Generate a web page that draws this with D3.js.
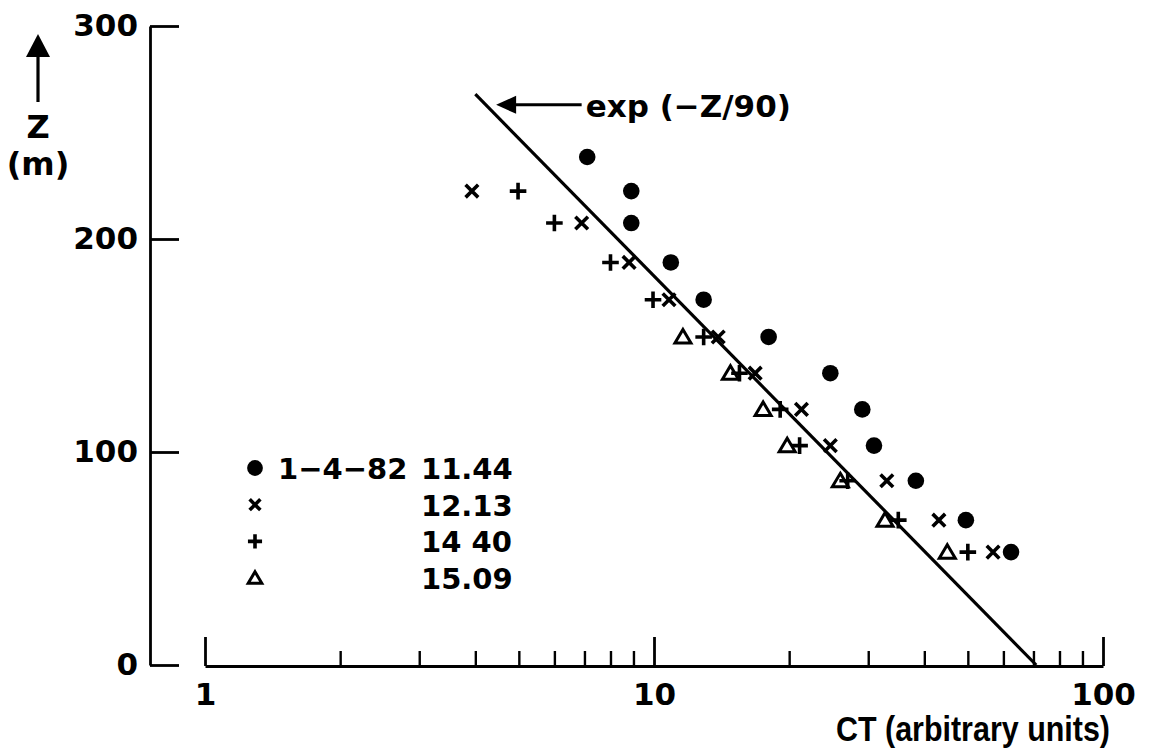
<!DOCTYPE html>
<html>
<head>
<meta charset="utf-8">
<script src="https://cdn.jsdelivr.net/npm/d3@7"></script>
<style>
    html, body { margin: 0; padding: 0; background: #fff; }
    svg { display: block; }
    text { font-family: "DejaVu Sans", "Liberation Sans", sans-serif; font-weight: bold; fill: #000; }
</style>
</head>
<body>
<svg id="chart" width="1154" height="756"></svg>
<script>
// heights (m) at which each profile was sampled
const zDots = [238.5, 222.5, 207.5, 189, 171.5, 154, 137, 120, 103, 86.5, 68, 53];
const ctDots = [7.1, 8.9, 8.9, 10.9, 12.9, 18.0, 24.7, 29.1, 30.9, 38.3, 49.5, 62.4];

const zCross = [222.5, 207.5, 189, 171.5, 154, 137, 120, 103, 86.5, 68, 53];
const ctCross = [3.93, 6.9, 8.8, 10.8, 13.9, 16.8, 21.3, 24.7, 33.0, 43.1, 56.9];

const zPlus = [222.5, 207.5, 189, 171.5, 154, 137, 120, 103, 86.5, 68, 53];
const ctPlus = [4.98, 6.0, 8.0, 9.95, 12.9, 15.5, 19.1, 21.1, 27.0, 35.0, 50.0];

const zTri = [154, 137, 120, 103, 86.5, 68, 53];
const ctTri = [11.6, 14.8, 17.5, 19.8, 26.0, 32.7, 45.0];

// fitted exp(-Z/90) line, end points
const fitCT = [4.0, 71];
const fitZ = [268, 0];

const legendSymbols = ['dot', 'cross', 'plus', 'tri'];
const legendDates = ['1−4−82', '', '', ''];
const legendTimes = ['11.44', '12.13', '14 40', '15.09'];

const yTicks = [0, 100, 200, 300];
const xMajor = [1, 10, 100];
const xMinor = [2, 3, 4, 5, 6, 7, 8, 9, 20, 30, 40, 50, 60, 70, 80, 90];

const svg = d3.select('#chart');

const x = d3.scaleLog().domain([1, 100]).range([205, 1103]);
const y = d3.scaleLinear().domain([0, 300]).range([665, 26]);

// y axis, ticks pointing right, labels left
svg.append('g')
    .attr('transform', 'translate(150,0)')
    .call(d3.axisLeft(y).tickValues(yTicks).tickSize(-29).tickSizeOuter(0).tickPadding(12))
    .call(g => g.selectAll('path, line').attr('stroke', '#000').attr('stroke-width', 2.8))
    .call(g => g.selectAll('text').attr('font-size', 31).attr('font-family', null));

// x axis
const xAxisY = 666;
svg.append('g')
    .attr('transform', `translate(0,${xAxisY})`)
    .call(d3.axisBottom(x).tickValues(xMinor).tickSize(-15).tickSizeOuter(0).tickFormat(''))
    .call(g => g.select('.domain').remove())
    .call(g => g.selectAll('line').attr('stroke', '#000').attr('stroke-width', 2.4));

svg.append('g')
    .attr('transform', `translate(0,${xAxisY})`)
    .call(d3.axisBottom(x).tickValues(xMajor).tickSize(-29).tickSizeOuter(0).tickPadding(17).tickFormat(d3.format('d')))
    .call(g => g.selectAll('path, line').attr('stroke', '#000').attr('stroke-width', 2.8))
    .call(g => g.selectAll('text').attr('font-size', 31).attr('font-family', null));

// axis titles (condensed lettering)
svg.append('text')
    .attr('transform', 'translate(1110,741) scale(0.87,1)')
    .attr('text-anchor', 'end')
    .attr('font-size', 35)
    .style('font-family', '"Liberation Sans", Arial, sans-serif')
    .text('CT (arbitrary units)');

// up arrow, Z (m)
svg.append('line')
    .attr('x1', 38).attr('y1', 102).attr('x2', 38).attr('y2', 52)
    .attr('stroke', '#000').attr('stroke-width', 3.2);
svg.append('path')
    .attr('d', 'M38,34 L50,57 L26,57 Z')
    .attr('fill', '#000');
svg.append('text')
    .attr('x', 38).attr('y', 138)
    .attr('text-anchor', 'middle')
    .attr('font-size', 32)
    .text('Z');
svg.append('text')
    .attr('x', 38).attr('y', 175)
    .attr('text-anchor', 'middle')
    .attr('font-size', 32)
    .text('(m)');

// fit line
const fitLine = d3.line().x(d => x(d[0])).y(d => y(d[1]));
svg.append('path')
    .attr('d', fitLine(d3.zip(fitCT, fitZ)))
    .attr('fill', 'none')
    .attr('stroke', '#000')
    .attr('stroke-width', 3.2);

// annotation arrow and label
const annZ = 263;
const annTip = x(4.45);
const annStart = x(6.9);
svg.append('line')
    .attr('x1', annStart).attr('y1', y(annZ))
    .attr('x2', annTip + 14).attr('y2', y(annZ))
    .attr('stroke', '#000').attr('stroke-width', 3);
svg.append('path')
    .attr('d', `M${annTip},${y(annZ)} L${annTip + 20},${y(annZ) - 9} L${annTip + 20},${y(annZ) + 9} Z`)
    .attr('fill', '#000');
svg.append('text')
    .attr('x', annStart + 4)
    .attr('y', y(annZ) + 12)
    .attr('font-size', 31)
    .text('exp (−Z/90)');

// symbols
function drawSymbol(g, type, cx, cy, s) {
    if (type === 'dot') {
        g.append('circle').attr('cx', cx).attr('cy', cy).attr('r', 8.3 * s).attr('fill', '#000');
    } else if (type === 'cross') {
        const r = 6.3 * s;
        g.append('path')
            .attr('d', `M${cx - r},${cy - r}L${cx + r},${cy + r}M${cx - r},${cy + r}L${cx + r},${cy - r}`)
            .attr('stroke', '#000').attr('stroke-width', 3.6).attr('fill', 'none');
    } else if (type === 'plus') {
        const r = 8.3 * s;
        g.append('path')
            .attr('d', `M${cx - r},${cy}L${cx + r},${cy}M${cx},${cy - r}L${cx},${cy + r}`)
            .attr('stroke', '#000').attr('stroke-width', 3.6).attr('fill', 'none');
    } else if (type === 'tri') {
        const w = 8 * s, h = 13.5 * s;
        g.append('path')
            .attr('d', `M${cx},${cy - h * 0.55}L${cx + w},${cy + h * 0.45}L${cx - w},${cy + h * 0.45}Z`)
            .attr('stroke', '#000').attr('stroke-width', 3).attr('fill', 'none');
    }
}

const series = [
    {type: 'dot', ct: ctDots, z: zDots},
    {type: 'cross', ct: ctCross, z: zCross},
    {type: 'plus', ct: ctPlus, z: zPlus},
    {type: 'tri', ct: ctTri, z: zTri}
];

const marks = svg.append('g');
series.forEach(s => {
    s.ct.forEach((v, i) => drawSymbol(marks, s.type, x(v), y(s.z[i]), 1));
});

// legend
const legend = svg.append('g');
legendSymbols.forEach((t, i) => {
    const ly = 468 + i * 36.7;
    drawSymbol(legend, t, 255, ly, t === 'dot' ? 0.95 : 0.85);
    if (legendDates[i]) {
        legend.append('text').attr('x', 278).attr('y', ly + 11).attr('font-size', 29).text(legendDates[i]);
    }
    legend.append('text').attr('x', 421).attr('y', ly + 11).attr('font-size', 29).text(legendTimes[i]);
});
</script>
</body>
</html>
